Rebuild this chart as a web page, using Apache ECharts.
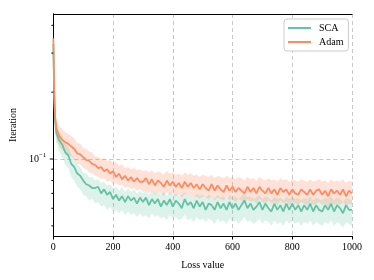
<!DOCTYPE html>
<html><head><meta charset="utf-8">
<script src="https://cdn.jsdelivr.net/npm/echarts@6/dist/echarts.min.js"></script>
<style>html,body{margin:0;padding:0;background:#fff}#c{width:374px;height:280px}</style>
</head><body><div id="c"></div>
<script>
const iters = [0,3,6,10,20,30,40,50,60,70,80,90,100,110,120,130,140,150,160,170,180,190,200,210,220,230,240,250,260,270,280,290,300,310,320,330,340,350,360,370,380,390,400,410,420,430,440,450,460,470,480,490,500,510,520,530,540,550,560,570,580,590,600,610,620,630,640,650,660,670,680,690,700,710,720,730,740,750,760,770,780,790,800,810,820,830,840,850,860,870,880,890,900,910,920,930,940,950,960,970,980,990,1000];
const scaMean = [0.33,0.19,0.148,0.131,0.121,0.116,0.107,0.104,0.095,0.092,0.086,0.084,
  0.080,0.077,0.076,0.074,0.074,0.075,0.070,0.073,0.069,0.071,0.066,0.069,0.065,0.068,0.064,0.068,0.065,0.067,0.063,0.067,
  0.064,0.067,0.062,0.066,0.063,0.066,0.061,0.065,0.062,0.066,
  0.061,0.065,0.063,0.060,0.066,0.062,0.064,0.060,0.065,0.061,
  0.064,0.059,0.063,0.062,0.059,0.064,0.060,0.063,0.059,0.064,
  0.060,0.063,0.059,0.062,0.065,0.060,0.063,0.059,0.061,0.064,
  0.059,0.063,0.060,0.058,0.063,0.059,0.062,0.058,0.063,0.059,
  0.063,0.059,0.062,0.058,0.062,0.059,0.063,0.058,0.062,0.059,
  0.058,0.062,0.059,0.063,0.058,0.062,0.060,0.057,0.062,0.059,
  0.059];
const scaUpper = [0.36,0.22,0.17,0.143,0.133,0.127,0.118,0.114,0.105,0.101,0.095,0.092,0.087,0.086,0.083,0.083,0.080,0.081,0.078,0.079,0.076,0.077,0.074,0.075,0.072,0.075,0.071,0.074,0.071,0.073,0.070,0.072,0.070,0.072,0.069,0.072,0.070,0.071,0.069,0.071,0.068,0.071,0.069,0.070,0.068,0.069,0.071,0.068,0.069,0.067,0.070,0.068,0.069,0.067,0.069,0.068,0.066,0.069,0.067,0.068,0.066,0.069,0.067,0.068,0.066,0.068,0.070,0.067,0.068,0.066,0.067,0.069,0.066,0.068,0.067,0.065,0.068,0.066,0.067,0.065,0.068,0.066,0.068,0.066,0.067,0.065,0.067,0.066,0.068,0.065,0.067,0.066,0.065,0.067,0.066,0.068,0.065,0.067,0.066,0.064,0.067,0.066,0.065];
const scaLower = [0.30,0.16,0.13,0.118,0.108,0.102,0.094,0.091,0.083,0.080,0.075,0.073,0.069,0.068,0.065,0.066,0.063,0.064,0.061,0.062,0.059,0.061,0.058,0.059,0.057,0.059,0.056,0.058,0.056,0.057,0.055,0.057,0.055,0.056,0.054,0.057,0.055,0.056,0.054,0.055,0.053,0.056,0.054,0.055,0.053,0.054,0.056,0.053,0.054,0.052,0.055,0.053,0.054,0.052,0.054,0.053,0.051,0.054,0.052,0.053,0.051,0.054,0.052,0.053,0.051,0.053,0.055,0.052,0.053,0.051,0.052,0.054,0.051,0.053,0.052,0.050,0.053,0.051,0.052,0.050,0.053,0.051,0.053,0.051,0.052,0.050,0.052,0.051,0.053,0.050,0.052,0.051,0.050,0.052,0.051,0.053,0.050,0.052,0.051,0.049,0.052,0.051,0.050];
const adamMean = [0.35,0.20,0.155,0.137,0.127,0.122,0.119,0.117,0.114,0.111,0.106,0.105,
  0.102,0.099,0.098,0.095,0.094,0.091,0.092,0.088,0.090,0.086,0.088,0.083,0.086,0.081,0.084,0.080,0.083,0.079,0.082,0.079,
  0.079,0.082,0.077,0.081,0.076,0.080,0.078,0.075,0.080,0.076,
  0.079,0.075,0.078,0.074,0.079,0.075,0.078,0.074,0.077,0.073,
  0.077,0.074,0.072,0.077,0.072,0.076,0.073,0.071,0.076,0.072,
  0.075,0.071,0.074,0.072,0.070,0.075,0.071,0.074,0.070,0.075,
  0.072,0.070,0.074,0.070,0.073,0.069,0.074,0.071,0.073,0.069,
  0.073,0.070,0.069,0.073,0.071,0.069,0.073,0.069,0.072,0.073,
  0.069,0.072,0.068,0.073,0.070,0.072,0.069,0.073,0.068,0.072,
  0.070];
const adamUpper = [0.38,0.23,0.18,0.152,0.141,0.136,0.132,0.130,0.127,0.124,0.118,0.117,0.112,0.111,0.108,0.107,0.103,0.102,0.100,0.101,0.098,0.099,0.096,0.097,0.093,0.095,0.091,0.092,0.090,0.091,0.089,0.090,0.088,0.089,0.087,0.089,0.086,0.088,0.087,0.085,0.088,0.086,0.087,0.085,0.086,0.084,0.087,0.085,0.086,0.084,0.085,0.083,0.085,0.084,0.083,0.085,0.082,0.084,0.083,0.082,0.084,0.082,0.083,0.081,0.083,0.082,0.080,0.083,0.081,0.082,0.080,0.083,0.081,0.080,0.082,0.080,0.081,0.079,0.082,0.080,0.081,0.079,0.081,0.080,0.079,0.081,0.080,0.079,0.081,0.079,0.080,0.081,0.079,0.080,0.078,0.081,0.079,0.080,0.079,0.081,0.078,0.080,0.079];
const adamLower = [0.32,0.17,0.135,0.123,0.114,0.110,0.107,0.105,0.103,0.100,0.095,0.095,0.091,0.090,0.087,0.086,0.084,0.083,0.081,0.082,0.079,0.080,0.077,0.078,0.076,0.077,0.074,0.075,0.073,0.074,0.072,0.073,0.071,0.072,0.070,0.072,0.069,0.071,0.070,0.068,0.071,0.069,0.070,0.068,0.069,0.067,0.070,0.068,0.069,0.067,0.068,0.066,0.068,0.067,0.066,0.068,0.065,0.067,0.066,0.065,0.067,0.065,0.066,0.064,0.066,0.065,0.063,0.066,0.064,0.065,0.063,0.066,0.064,0.063,0.065,0.063,0.064,0.062,0.065,0.063,0.064,0.062,0.064,0.063,0.062,0.064,0.063,0.062,0.064,0.062,0.063,0.064,0.062,0.063,0.061,0.064,0.062,0.063,0.062,0.064,0.061,0.063,0.062];
const xTicks = [0,200,400,600,800,1000];
const yMajorTicks = [0.1];
const yMinorTicks = [0.05,0.06,0.07,0.08,0.09,0.2,0.3,0.4];
const seriesNames = ['SCA','Adam'];

const FONT = '"Liberation Serif","DejaVu Serif",serif';
const GREEN = '#66c2a5', ORANGE = '#fc8d62';
const pairs = (ys) => iters.map((x,i)=>[x, ys[i]]);

function band(lo, hi, fill){
  return {
    type:'custom', silent:true, z:1, data:[[0,0.1]],
    renderItem:function(params, api){
      const pts=[];
      for(let i=0;i<iters.length;i++) pts.push(api.coord([iters[i], hi[i]]));
      for(let i=iters.length-1;i>=0;i--) pts.push(api.coord([iters[i], lo[i]]));
      return {type:'polygon', shape:{points:pts}, style:{fill:fill}};
    }
  };
}
const tickData = yMajorTicks.map(v=>[0,v,1]).concat(yMinorTicks.map(v=>[0,v,0]));

const chart = echarts.init(document.getElementById('c'), null, {renderer:'canvas'});
chart.setOption({
  animation:false,
  backgroundColor:'#fff',
  grid:{left:53,right:22,top:14,bottom:44},
  legend:{
    data:seriesNames, orient:'vertical', left:284, top:19,
    icon:'rect', itemWidth:23, itemHeight:2, itemGap:4,
    padding:[4,5,4,4], backgroundColor:'#fff', borderColor:'#cccccc', borderWidth:1, borderRadius:3,
    textStyle:{fontFamily:FONT, fontSize:10, color:'#000', padding:[0,0,0,3]}
  },
  xAxis:[{
    type:'value', min:0, max:1000, interval:200,
    name:'Loss value', nameLocation:'middle', nameGap:24,
    nameTextStyle:{fontFamily:FONT, fontSize:10, color:'#000'},
    axisLine:{show:true, onZero:false, lineStyle:{color:'#000', width:1}},
    axisTick:{show:true, inside:false, length:3.5, lineStyle:{color:'#000', width:1}},
    axisLabel:{fontFamily:FONT, fontSize:10, color:'#000', margin:6,
      formatter:function(v){ return xTicks.indexOf(v) >= 0 ? String(v) : ''; }},
    splitLine:{show:true, lineStyle:{color:'#c8c8c8', type:[4,3], width:1}}
  },{
    type:'value', position:'top', min:0, max:1000,
    axisLine:{show:true, lineStyle:{color:'#000', width:1}},
    axisTick:{show:false}, axisLabel:{show:false}, splitLine:{show:false}
  }],
  yAxis:[{
    type:'log', logBase:10, min:0.045, max:0.45,
    name:'Iteration', nameLocation:'middle', nameGap:33,
    nameTextStyle:{fontFamily:FONT, fontSize:10, color:'#000'},
    axisLine:{show:true, onZero:false, lineStyle:{color:'#000', width:1}},
    axisTick:{show:false},
    axisLabel:{
      margin:7,
      formatter:function(v){ return Math.abs(Math.log10(v)+1)<1e-6 ? '{b|10}{s|\u22121}' : ''; },
      rich:{
        b:{fontFamily:FONT, fontSize:10, color:'#000'},
        s:{fontFamily:FONT, fontSize:7, color:'#000', padding:[0,0,7,0]}
      }
    },
    splitLine:{show:true, lineStyle:{color:'#c8c8c8', type:[4,3], width:1}}
  },{
    type:'log', logBase:10, min:0.045, max:0.45, position:'right',
    axisLine:{show:true, lineStyle:{color:'#000', width:1}},
    axisTick:{show:false}, axisLabel:{show:false}, splitLine:{show:false}
  }],
  series:[
    band(scaLower, scaUpper, 'rgba(102,194,165,0.22)'),
    band(adamLower, adamUpper, 'rgba(252,141,98,0.25)'),
    {name:'SCA', type:'line', data:pairs(scaMean), showSymbol:false, z:3,
     color:GREEN, lineStyle:{color:GREEN, width:1.8}},
    {name:'Adam', type:'line', data:pairs(adamMean), showSymbol:false, z:3,
     color:ORANGE, lineStyle:{color:ORANGE, width:1.8}},
    {type:'custom', silent:true, z:5, clip:false, data:tickData,
     renderItem:function(params, api){
       const p = api.coord([api.value(0), api.value(1)]);
       const len = api.value(2) ? 3.5 : 2;
       return {type:'line', shape:{x1:p[0]-len, y1:p[1], x2:p[0], y2:p[1]},
               style:{stroke:'#000', lineWidth:1}};
     }}
  ]
});
</script>
</body></html>
